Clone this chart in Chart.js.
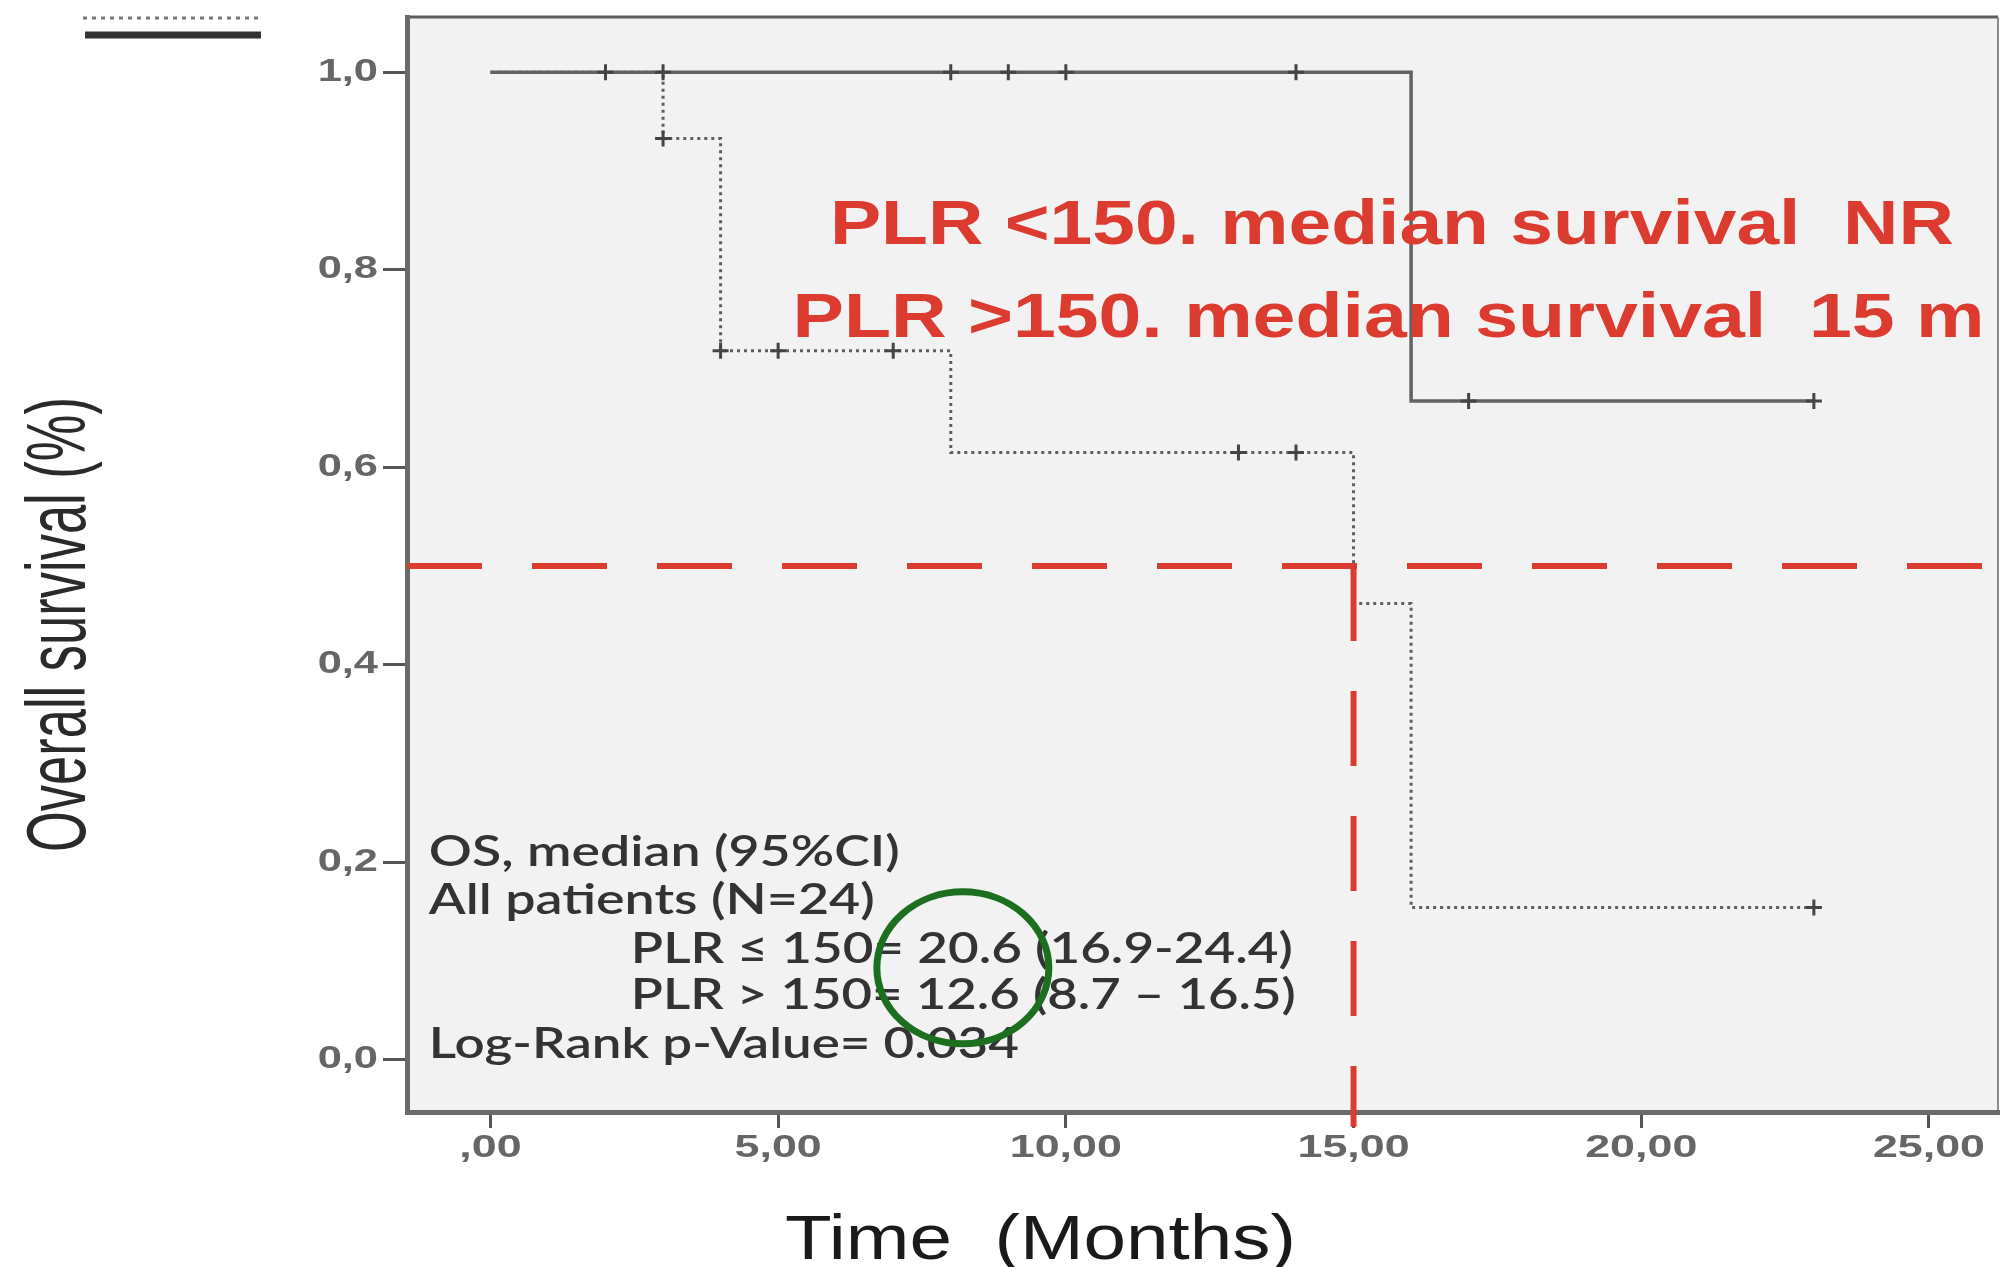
<!DOCTYPE html>
<html>
<head>
<meta charset="utf-8">
<script src="https://cdn.jsdelivr.net/npm/chart.js@4.4.1/dist/chart.umd.min.js"></script>
<style>
  html, body { margin: 0; padding: 0; background: #fff; }
  canvas { display: block; }
</style>
</head>
<body>
<canvas id="km" width="2009" height="1267"></canvas>
<script>
// Kaplan-Meier curves (time in months, survival fraction)
const highTimes = [0, 3, 4, 8, 15, 16, 23];
const highSurv = [1.0, 0.933, 0.718, 0.615, 0.462, 0.154, 0.154];
const highCensorTimes = [3, 4, 5, 7, 13, 14, 23];
const highCensorSurv = [0.933, 0.718, 0.718, 0.718, 0.615, 0.615, 0.154];

const lowTimes = [0, 16, 23];
const lowSurv = [1.0, 0.667, 0.667];
const lowCensorTimes = [2, 3, 8, 9, 10, 14, 17, 23];
const lowCensorSurv = [1, 1, 1, 1, 1, 1, 0.667, 0.667];

// median reference lines
const medianSurv = 0.5;
const medianTime = 15;

// axes
const xTickValues = [0, 5, 10, 15, 20, 25];
const xTickLabels = [",00", "5,00", "10,00", "15,00", "20,00", "25,00"];
const yTickValues = [0, 0.2, 0.4, 0.6, 0.8, 1.0];
const yTickLabels = ["0,0", "0,2", "0,4", "0,6", "0,8", "1,0"];
const xMin = -1.45, xMax = 26.2;
const yMin = -0.053, yMax = 1.056;

// texts
const redLines = ["PLR <150. median survival  NR", "PLR >150. median survival  15 m"];
const statLines = ["OS, median (95%CI)", "All patients (N=24)", "PLR \u2264 150= 20.6 (16.9-24.4)",
                   "PLR > 150= 12.6 (8.7 \u2013 16.5)", "Log-Rank p-Value= 0.034"];

const RED = '#dc3b30';
const pts = (xs, ys) => xs.map((x, i) => ({ x: x, y: ys[i] }));

// draw text squeezed/stretched to a given width
function fitText(ctx, text, x, y, font, width, color) {
    ctx.save();
    ctx.font = font;
    ctx.fillStyle = color;
    ctx.textBaseline = 'alphabetic';
    const w = ctx.measureText(text).width;
    ctx.translate(x, y);
    ctx.scale(width / w, 1);
    ctx.fillText(text, 0, 0);
    ctx.restore();
}

// draw text with a horizontal stretch factor
function stretchText(ctx, text, x, y, font, stretch, align, color) {
    ctx.save();
    ctx.font = font;
    ctx.fillStyle = color;
    ctx.textBaseline = 'middle';
    const w = ctx.measureText(text).width * stretch;
    let left = x;
    if (align === 'center') left = x - w / 2;
    if (align === 'right') left = x - w;
    ctx.translate(left, y);
    ctx.scale(stretch, 1);
    ctx.fillText(text, 0, 0);
    ctx.restore();
}

const kmPlugin = {
    id: 'km',
    beforeDraw(chart) {
        const { ctx, chartArea: a } = chart;
        ctx.save();
        ctx.fillStyle = '#ffffff';
        ctx.fillRect(0, 0, chart.width, chart.height);
        ctx.fillStyle = '#f2f2f2';
        ctx.fillRect(a.left, a.top, a.right - a.left, a.bottom - a.top);
        // top and right frame
        ctx.strokeStyle = '#5c5c5c';
        ctx.lineWidth = 3;
        ctx.beginPath();
        ctx.moveTo(a.left, a.top);
        ctx.lineTo(a.right, a.top);
        ctx.stroke();
        ctx.strokeStyle = '#8a8a8a';
        ctx.lineWidth = 2;
        ctx.beginPath();
        ctx.moveTo(a.right, a.top);
        ctx.lineTo(a.right, a.bottom);
        ctx.stroke();
        ctx.restore();
    },
    afterDatasetsDraw(chart) {
        const { ctx } = chart;
        const xs = chart.scales.x, ys = chart.scales.y;

        // red annotation
        fitText(ctx, redLines[0], xs.getPixelForValue(5.9), ys.getPixelForValue(0.826),
            'bold 63px "Liberation Sans", Arial, sans-serif', 1124, RED);
        fitText(ctx, redLines[1], xs.getPixelForValue(5.25), ys.getPixelForValue(0.732),
            'bold 63px "Liberation Sans", Arial, sans-serif', 1192, RED);

        // statistics block
        const statX = [-1.07, -1.07, 2.44, 2.44, -1.07];
        const statY = [0.196, 0.148, 0.098, 0.051, 0.002];
        const statW = [471, 446, 662, 665, 590];
        statLines.forEach((t, i) => {
            fitText(ctx, t, xs.getPixelForValue(statX[i]), ys.getPixelForValue(statY[i]),
                '600 42px Lato, "Open Sans", sans-serif', statW[i], '#333333');
        });

        // green highlight ellipse
        ctx.save();
        ctx.strokeStyle = '#1b6f1f';
        ctx.lineWidth = 7;
        ctx.beginPath();
        ctx.ellipse(xs.getPixelForValue(8.21), ys.getPixelForValue(0.093), 86, 76, 0, 0, Math.PI * 2);
        ctx.stroke();
        ctx.restore();
    },
    afterDraw(chart) {
        const { ctx, chartArea: a } = chart;
        const xs = chart.scales.x, ys = chart.scales.y;

        // tick labels
        yTickValues.forEach((v, i) => {
            stretchText(ctx, yTickLabels[i], a.left - 29, ys.getPixelForValue(v),
                'bold 31px "Liberation Sans", Arial, sans-serif', 1.4, 'right', '#666');
        });
        xTickValues.forEach((v, i) => {
            stretchText(ctx, xTickLabels[i], xs.getPixelForValue(v), a.bottom + 36,
                'bold 32px "Liberation Sans", Arial, sans-serif', 1.4, 'center', '#666');
        });

        // axis titles
        fitText(ctx, 'Time  (Months)', 785, 1259, '63px "Liberation Sans", Arial, sans-serif', 511, '#1a1a1a');
        ctx.save();
        ctx.translate(85, 852);
        ctx.rotate(-Math.PI / 2);
        fitText(ctx, 'Overall survival (%)', 0, 0, '84px "Liberation Sans", Arial, sans-serif', 455, '#2a2a2a');
        ctx.restore();

        // legend swatches (labels cut off in the source)
        ctx.save();
        ctx.strokeStyle = '#7a7a7a';
        ctx.lineWidth = 3;
        ctx.setLineDash([4, 5]);
        ctx.beginPath();
        ctx.moveTo(83, 18);
        ctx.lineTo(263, 18);
        ctx.stroke();
        ctx.setLineDash([]);
        ctx.strokeStyle = '#333';
        ctx.lineWidth = 7;
        ctx.beginPath();
        ctx.moveTo(85, 35);
        ctx.lineTo(261, 35);
        ctx.stroke();
        ctx.restore();
    }
};

new Chart(document.getElementById('km').getContext('2d'), {
    type: 'line',
    data: {
        datasets: [
            {
                label: 'median time',
                data: pts([medianTime, medianTime], [medianSurv, -0.068]),
                borderColor: RED, borderWidth: 6, borderDash: [75, 50],
                pointRadius: 0, clip: false
            },
            {
                label: 'median survival',
                data: pts([xMin, xMax], [medianSurv, medianSurv]),
                borderColor: RED, borderWidth: 6, borderDash: [75, 50],
                pointRadius: 0
            },
            {
                label: 'PLR > 150 censored',
                data: pts(highCensorTimes, highCensorSurv),
                showLine: false, pointStyle: 'cross', pointRadius: 8,
                pointBorderWidth: 3, pointBorderColor: '#444'
            },
            {
                label: 'PLR \u2264 150 censored',
                data: pts(lowCensorTimes, lowCensorSurv),
                showLine: false, pointStyle: 'cross', pointRadius: 8,
                pointBorderWidth: 3, pointBorderColor: '#444'
            },
            {
                label: 'PLR \u2264 150',
                data: pts(lowTimes, lowSurv),
                stepped: true, borderColor: '#626262', borderWidth: 3.5,
                pointRadius: 0, fill: false
            },
            {
                label: 'PLR > 150',
                data: pts(highTimes, highSurv),
                stepped: true, borderColor: '#5e5e5e', borderWidth: 3, borderDash: [3, 4],
                pointRadius: 0, fill: false
            }
        ]
    },
    options: {
        responsive: false,
        animation: false,
        layout: { padding: { top: 17, right: 4, left: 0, bottom: 0 } },
        plugins: { legend: { display: false }, tooltip: { enabled: false } },
        scales: {
            x: {
                type: 'linear', min: xMin, max: xMax,
                afterBuildTicks: s => { s.ticks = xTickValues.map(v => ({ value: v })); },
                afterFit: s => { s.height = 155; },
                ticks: { display: false },
                grid: { drawOnChartArea: false, drawTicks: true, tickLength: 16, color: '#555', lineWidth: 3 },
                border: { display: true, color: '#6a6a6a', width: 5 }
            },
            y: {
                type: 'linear', min: yMin, max: yMax,
                afterBuildTicks: s => { s.ticks = yTickValues.map(v => ({ value: v })); },
                afterFit: s => { s.width = 407; },
                ticks: { display: false },
                grid: { drawOnChartArea: false, drawTicks: true, tickLength: 24, color: '#555', lineWidth: 3 },
                border: { display: true, color: '#6a6a6a', width: 5 }
            }
        }
    },
    plugins: [kmPlugin]
});
</script>
</body>
</html>
